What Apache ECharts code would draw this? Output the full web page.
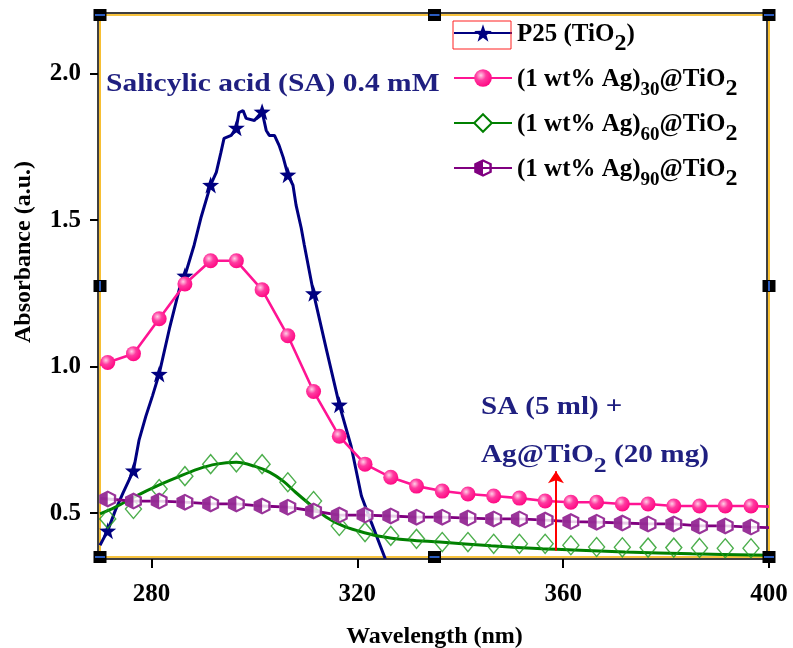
<!DOCTYPE html>
<html>
<head>
<meta charset="utf-8">
<script src="https://cdn.jsdelivr.net/npm/echarts@6/dist/echarts.min.js"></script>
<style>
  html, body { margin: 0; padding: 0; background: #ffffff; }
  #chart { width: 793px; height: 648px; }
</style>
</head>
<body>
<div id="chart"></div>
<script>
// ---- axis ranges and ticks ----
const xMin = 270, xMax = 400;
const yMin = 0.35, yMax = 2.2;
const xTicks = [280, 320, 360, 400];
const yTicks = [0.5, 1.0, 1.5, 2.0];

// ---- series names ----
const seriesNames = ['P25 (TiO2)', '(1 wt% Ag)30@TiO2', '(1 wt% Ag)60@TiO2', '(1 wt% Ag)90@TiO2'];

// ---- P25 (TiO2): recorded trace, stars at the sampled wavelengths ----
const p25Wave = [270, 271.5, 273, 274.5, 276.5, 277.6, 278.9, 280.2, 281.5, 283.5, 285.5, 286.5, 288.3, 289.6,
  291.5, 292.6, 293.5, 294.1, 295.5, 296.5, 297.0, 297.8, 298.4, 300.0, 301.5, 302.3, 302.9, 303.9, 304.8,
  305.6, 306.5, 307.5, 308.1, 309.1, 309.7, 311.5, 314.0, 316.5, 318.8, 320.8, 322.7, 325.3, 327.0];
const p25Abs = [0.39, 0.44, 0.51, 0.57, 0.645, 0.75, 0.83, 0.90, 0.975, 1.13, 1.27, 1.31, 1.415, 1.507,
  1.62, 1.663, 1.731, 1.779, 1.789, 1.815, 1.867, 1.874, 1.847, 1.840, 1.870, 1.806, 1.789, 1.789, 1.755,
  1.714, 1.655, 1.619, 1.551, 1.473, 1.415, 1.25, 1.058, 0.87, 0.728, 0.558, 0.469, 0.35, 0.27];
const p25StarWave = [271.5, 276.5, 281.5, 286.5, 291.5, 296.5, 301.5, 306.5, 311.5, 316.5];

// ---- Ag-loaded samples share the same sampling wavelengths ----
const scanWave = [270, 271.5, 276.5, 281.5, 286.5, 291.5, 296.5, 301.5, 306.5, 311.5, 316.5, 321.5, 326.5,
  331.5, 336.5, 341.5, 346.5, 351.5, 356.5, 361.5, 366.5, 371.5, 376.5, 381.5, 386.5, 391.5, 396.5, 400];

// (1 wt% Ag)30@TiO2
const ag30Abs = [1.005, 1.014, 1.044, 1.163, 1.282, 1.361, 1.361, 1.262, 1.105, 0.915, 0.762, 0.667, 0.622,
  0.592, 0.575, 0.565, 0.558, 0.551, 0.541, 0.537, 0.537, 0.531, 0.531, 0.524, 0.524, 0.524, 0.524, 0.522];

// (1 wt% Ag)60@TiO2: smoothed curve and measured points
const ag60LineWave = [270, 273, 277, 281, 285, 289, 292.6, 296.5, 300, 303, 305.6, 308, 310.7, 314, 317,
  320, 324, 330, 336, 346, 356, 362, 372, 385, 400];
const ag60LineAbs = [0.497, 0.52, 0.558, 0.592, 0.622, 0.65, 0.667, 0.673, 0.66, 0.639, 0.609, 0.571, 0.531,
  0.486, 0.458, 0.44, 0.422, 0.408, 0.401, 0.388, 0.378, 0.374, 0.367, 0.361, 0.356];
const ag60PointAbs = [0.48, 0.514, 0.582, 0.626, 0.667, 0.673, 0.667, 0.605, 0.541, 0.456, 0.435, 0.422,
  0.412, 0.401, 0.401, 0.395, 0.395, 0.395, 0.39, 0.384, 0.383, 0.382, 0.382, 0.381, 0.38, 0.38];

// (1 wt% Ag)90@TiO2
const ag90Abs = [0.55, 0.548, 0.541, 0.541, 0.537, 0.531, 0.531, 0.524, 0.52, 0.507, 0.493, 0.493, 0.49,
  0.486, 0.486, 0.483, 0.48, 0.48, 0.476, 0.471, 0.469, 0.466, 0.463, 0.463, 0.456, 0.456, 0.452, 0.45];

// red arrow marking the sample wavelength
const arrowWave = 358.6, arrowFrom = 0.371, arrowTo = 0.643;

// ---- styling ----
const FONT = '"Liberation Serif", "Times New Roman", serif';
const NAVY = '#000080', PINK = '#ff1493', GREEN = '#008000', PURPLE = '#800080';
const gridBox = { left: 100, top: 15, right: 24, bottom: 91 };
const W = 793, H = 648;
const gx0 = gridBox.left, gy0 = gridBox.top, gx1 = W - gridBox.right, gy1 = H - gridBox.bottom;

const starPath = 'path://M50,0L61.76,33.82L97.55,34.55L69.02,56.18L79.39,90.45L50,70L20.61,90.45L30.98,56.18L2.45,34.55L38.24,33.82Z';
const hexPath = 'path://M50,0L93,25L93,75L50,100L7,75L7,25Z';
// left half solid, right half outlined (hole by reversed winding)
const halfHexPath = 'path://M50,0L50,100L7,75L7,25Z M50,0L93,25L93,75L50,100Z M50,14L50,86L81,68L81,32Z';

const isEdge = w => w === xMin || w === xMax;

const legendLabels = {
  [seriesNames[0]]: '{b|P25 (TiO}{s2|2}{b|)}',
  [seriesNames[1]]: '{b|(1 wt% Ag)}{s|30}{b|@TiO}{s2|2}',
  [seriesNames[2]]: '{b|(1 wt% Ag)}{s|60}{b|@TiO}{s2|2}',
  [seriesNames[3]]: '{b|(1 wt% Ag)}{s|90}{b|@TiO}{s2|2}'
};

const pinkBall = {
  type: 'radial', x: 0.38, y: 0.35, r: 0.65,
  colorStops: [
    { offset: 0, color: '#ffd0e6' },
    { offset: 0.45, color: '#ff3aa0' },
    { offset: 1, color: '#ff0a84' }
  ]
};

const series = [
  {
    name: seriesNames[0], type: 'line',
    symbol: starPath, symbolSize: 17,
    itemStyle: { color: NAVY },
    lineStyle: { color: NAVY, width: 3 },
    data: p25Wave.map((w, i) => ({
      value: [w, p25Abs[i]],
      symbol: p25StarWave.includes(w) ? starPath : 'none'
    })),
    clip: true, z: 2
  },
  {
    name: seriesNames[1], type: 'line',
    symbol: 'circle', symbolSize: 15,
    itemStyle: { color: pinkBall },
    lineStyle: { color: PINK, width: 2.6 },
    data: scanWave.map((w, i) => ({ value: [w, ag30Abs[i]], symbol: isEdge(w) ? 'none' : 'circle' })),
    clip: true, z: 3,
    markLine: {
      silent: true, animation: false,
      symbol: ['none', 'arrow'], symbolSize: 12,
      label: { show: false },
      lineStyle: { color: '#ff0000', width: 2, type: 'solid' },
      data: [[{ coord: [arrowWave, arrowFrom] }, { coord: [arrowWave, arrowTo] }]]
    }
  },
  {
    name: seriesNames[2], type: 'line', smooth: 0.35,
    symbol: 'emptyDiamond', symbolSize: [16, 19],
    itemStyle: { color: GREEN },
    lineStyle: { color: GREEN, width: 3 },
    data: ag60LineWave.map((w, i) => ({ value: [w, ag60LineAbs[i]], symbol: 'none' })),
    clip: true, z: 2
  },
  {
    name: seriesNames[2], type: 'scatter',
    symbol: 'diamond', symbolSize: [16, 19],
    itemStyle: { color: 'rgba(0,0,0,0)', borderColor: '#1f9a1f', borderWidth: 1.4 },
    data: scanWave.filter(w => !isEdge(w)).map((w, i) => [w, ag60PointAbs[i]]),
    clip: true, z: 2
  },
  {
    name: seriesNames[3], type: 'line',
    symbol: halfHexPath, symbolSize: 17,
    itemStyle: { color: PURPLE },
    lineStyle: { color: PURPLE, width: 2.8 },
    data: scanWave.map((w, i) => ({ value: [w, ag90Abs[i]], symbol: 'none' })),
    clip: true, z: 3
  },
  {
    name: seriesNames[3], type: 'scatter',
    symbol: hexPath, symbolSize: 17,
    itemStyle: { color: '#ffffff' },
    data: scanWave.map((w, i) => [w, ag90Abs[i]]).filter(d => !isEdge(d[0])),
    clip: true, z: 3
  },
  {
    name: seriesNames[3], type: 'scatter',
    symbol: halfHexPath, symbolSize: 17,
    itemStyle: { color: PURPLE },
    data: scanWave.map((w, i) => [w, ag90Abs[i]]).filter(d => !isEdge(d[0])),
    clip: true, z: 3
  }
];

// frame handles at the corners and edge midpoints
const handleGraphics = [];
const hx = [gx0, (gx0 + gx1) / 2, gx1], hy = [gy0, (gy0 + gy1) / 2, gy1];
hy.forEach((y, r) => hx.forEach((x, c) => {
  if (r === 1 && c === 1) return;
  handleGraphics.push({ type: 'rect', z: 100, shape: { x: x - 6.5, y: y - 6, width: 13, height: 12 }, style: { fill: '#000000' } });
  const horiz = (r !== 1);
  handleGraphics.push({
    type: 'line', z: 101,
    shape: horiz ? { x1: x - 5, y1: y, x2: x + 5, y2: y } : { x1: x, y1: y - 5, x2: x, y2: y + 5 },
    style: { stroke: '#3a7bff', lineWidth: 1.5 }
  });
}));

const richMain = {
  a: { fontSize: 25, fontWeight: 'bold', fontFamily: FONT, lineHeight: 26, verticalAlign: 'top' },
  s: { fontSize: 22, fontWeight: 'bold', fontFamily: FONT, lineHeight: 22, padding: [12, 0, 0, 0], verticalAlign: 'top' }
};

const option = {
  animation: false,
  backgroundColor: '#ffffff',
  grid: {
    left: gridBox.left, top: gridBox.top, right: gridBox.right, bottom: gridBox.bottom,
    containLabel: false, outerBoundsMode: 'none',
    show: true, borderColor: '#f5b000', borderWidth: 1.6, backgroundColor: 'transparent'
  },
  legend: {
    orient: 'vertical', left: 453, top: 20, padding: 0,
    itemWidth: 58, itemHeight: 22, itemGap: 6,
    selectedMode: false,
    data: seriesNames,
    formatter: name => legendLabels[name],
    textStyle: {
      color: '#000000',
      rich: {
        b: { fontSize: 25, fontWeight: 'bold', fontFamily: FONT, color: '#000', lineHeight: 26, padding: [2, 0, 12, 0], verticalAlign: 'top' },
        s: { fontSize: 19, fontWeight: 'bold', fontFamily: FONT, color: '#000', lineHeight: 18, padding: [16, 0, 0, 0], verticalAlign: 'top' },
        s2: { fontSize: 24, fontWeight: 'bold', fontFamily: FONT, color: '#000', lineHeight: 24, padding: [12, 0, 0, 0], verticalAlign: 'top' }
      }
    }
  },
  xAxis: [
    {
      type: 'value', min: xMin, max: xMax, position: 'bottom', offset: 2,
      name: 'Wavelength (nm)', nameLocation: 'middle', nameGap: 66,
      nameTextStyle: { fontSize: 24, fontWeight: 'bold', fontFamily: FONT, color: '#000' },
      axisLine: { show: true, lineStyle: { color: '#000', width: 1.5 } },
      axisTick: { show: true, inside: false, length: 9, customValues: xTicks, lineStyle: { color: '#000', width: 2 } },
      axisLabel: { show: true, customValues: xTicks, margin: 23, fontSize: 25, fontWeight: 'bold', fontFamily: FONT, color: '#000' },
      splitLine: { show: false }
    },
    {
      type: 'value', min: xMin, max: xMax, position: 'top', offset: 2,
      axisLine: { show: true, lineStyle: { color: '#000', width: 1.5 } },
      axisTick: { show: false }, axisLabel: { show: false }, splitLine: { show: false }
    }
  ],
  yAxis: [
    {
      type: 'value', min: yMin, max: yMax, position: 'left', offset: 2,
      name: 'Absorbance (a.u.)', nameLocation: 'middle', nameGap: 62,
      nameTextStyle: { fontSize: 24, fontWeight: 'bold', fontFamily: FONT, color: '#000', padding: [0, 0, 0, 68] },
      axisLine: { show: true, lineStyle: { color: '#000', width: 1.5 } },
      axisTick: { show: true, inside: false, length: 8, customValues: yTicks, lineStyle: { color: '#000', width: 2 } },
      axisLabel: {
        show: true, customValues: yTicks, margin: 17, fontSize: 25, fontWeight: 'bold', fontFamily: FONT, color: '#000',
        formatter: v => v.toFixed(1)
      },
      splitLine: { show: false }
    },
    {
      type: 'value', min: yMin, max: yMax, position: 'right', offset: -2,
      axisLine: { show: true, lineStyle: { color: '#000', width: 1.5 } },
      axisTick: { show: false }, axisLabel: { show: false }, splitLine: { show: false }
    }
  ],
  series: series,
  graphic: [
    {
      type: 'text', x: 106, y: 72, scaleX: 1.18, z: 50,
      style: {
        text: 'Salicylic acid (SA) 0.4 mM', fill: '#1f1f80',
        font: 'bold 25px ' + FONT, align: 'left', verticalAlign: 'top'
      }
    },
    {
      type: 'text', x: 481, y: 395, scaleX: 1.16, z: 50,
      style: {
        text: 'SA (5 ml) +', fill: '#1f1f80',
        font: 'bold 25px ' + FONT, align: 'left', verticalAlign: 'top'
      }
    },
    {
      type: 'text', x: 481, y: 443, scaleX: 1.17, z: 50,
      style: {
        text: '{a|Ag@TiO}{s|2}{a| (20 mg)}', fill: '#1f1f80',
        rich: richMain, align: 'left', verticalAlign: 'top'
      }
    },
    {
      type: 'rect', z: 60, shape: { x: 453, y: 21, width: 58, height: 28 },
      style: { fill: 'none', stroke: '#ff2020', lineWidth: 1 }
    }
  ].concat(handleGraphics)
};

const chart = echarts.init(document.getElementById('chart'), null, { renderer: 'canvas' });
chart.setOption(option);
</script>
</body>
</html>
